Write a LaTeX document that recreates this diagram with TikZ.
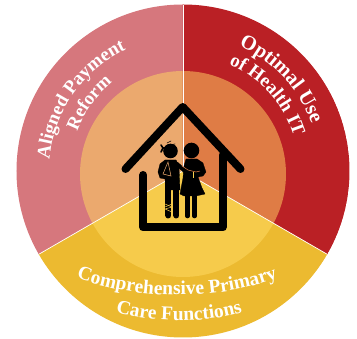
\documentclass[tikz,border=0pt]{standalone}
\usepackage{fontspec}
\setmainfont{Liberation Serif}
\usetikzlibrary{decorations.text}
\definecolor{pinkout}{HTML}{D6777D}
\definecolor{redout}{HTML}{BA2025}
\definecolor{yellowout}{HTML}{ECBA30}
\definecolor{pinkin}{HTML}{EBA96E}
\definecolor{redin}{HTML}{DF7C45}
\definecolor{yellowin}{HTML}{F6CB4B}
\tikzset{
	spoke/.style={white, line width=0.7pt},
	house/.style={black, line width=8pt, line cap=round, line join=round},
	figure/.style={fill=black, draw=black, line width=0.3pt, line join=round},
	limb/.style={black, line cap=round, line join=round},
	cut/.style={line width=0.5pt},
}
\newcommand{\arclabel}[3]{\path[decorate, decoration={text along path, text align=center, text color=white, text={|\bfseries\fontsize{#1}{#1}\selectfont|#2}}] #3;}
\begin{document}
\begin{tikzpicture}[x=1pt, y=1pt]
	\useasboundingbox (-183,-168) rectangle (174,171);
	% three sectors
	\foreach \a/\b/\co/\ci in {90/210/pinkout/pinkin, -30/90/redout/redin, 210/330/yellowout/yellowin} {
		\begin{scope}
			\clip (0,0) -- (\a:167) arc[start angle=\a, end angle=\b, radius=167] -- cycle;
			\fill[\co] (0,0) circle (166.5);
			\fill[\ci] (0,-3) circle (103);
		\end{scope}
	}
	\foreach \a in {90,210,330}
		\draw[spoke] (0,0) -- (\a:166);
	% labels
	\arclabel{19}{Aligned Payment}{(192:134) arc[start angle=192, end angle=98, radius=134]}
	\arclabel{18.5}{Reform}{(176:113) arc[start angle=176, end angle=112, radius=113]}
	\arclabel{20.5}{Optimal Use}{(88:137) arc[start angle=88, end angle=-2, radius=137]}
	\arclabel{19}{of Health IT}{(88:116) arc[start angle=88, end angle=-4, radius=116]}
	\arclabel{19.5}{Comprehensive Primary}{(-122,-100) .. controls (-55,-132) and (45,-132) .. (110,-100)}
	\arclabel{19.5}{Care Functions}{(-84,-136) .. controls (-35,-154) and (28,-154) .. (76,-136)}
	% house and the two people, in pixels of the sheet
	\begin{scope}[shift={(-183,171)}, y=-1pt]
		\draw[house] (125.5,169) -- (182.7,107) -- (240.5,169);
		\draw[house] (143.3,175) -- (143.3,227.5) -- (222.7,227.5) -- (222.7,155);
		% woman
		\fill (191.5,150.5) circle (7.8);
		\draw[figure] (186,159) -- (197,159) -- (203,163) -- (206,172) -- (203,176) -- (198,177) -- (202,188) -- (205,194) -- (196,196) -- (184,196) -- (180,194) -- (183,178) -- (184,166) -- cycle;
		\draw[limb, line width=4.6pt] (187.5,196) -- (187.5,216);
		\draw[limb, line width=4.6pt] (194.5,196) -- (194.5,216);
		% man
		\fill (170.5,151) circle (7.3);
		\draw[figure] (165,160) -- (176,160) -- (179,166) -- (180,190) -- (166,190) -- (165,179) -- (160,178) -- (158,172) -- (160,164) -- cycle;
		\draw[limb, line width=6pt] (168.5,182) -- (168.5,215.5);
		\draw[limb, line width=6pt] (176.5,182) -- (176.5,215.5);
		\draw[limb, line width=4pt] (177,164) -- (186,172) -- (193,175) -- (197,175);
		\draw[limb, line width=1.8pt] (163,148) -- (176,148);
		\draw[limb, line width=1.6pt] (163,148) -- (161,145);
		\draw[limb, line width=1.6pt] (163,148) -- (161,152);
		\draw[limb, line width=0.6pt] (167,143) -- (171,141);
		\draw[limb, line width=0.6pt] (170,145) -- (175,144);
		\draw[cut, pinkin] (168,162) -- (163,174) -- (171,176) -- cycle;
		\draw[cut, yellowin] (165,204) -- (172,207) -- (165,209) -- (172,212);
		\draw[cut, yellowin] (165,207) -- (172,204);
		\draw[cut, redin] (182,166) -- (188,170) -- (196,172) -- (200,171);
		\draw[cut, yellowin] (193,172.5) -- (193,178);
	\end{scope}
\end{tikzpicture}
\end{document}
